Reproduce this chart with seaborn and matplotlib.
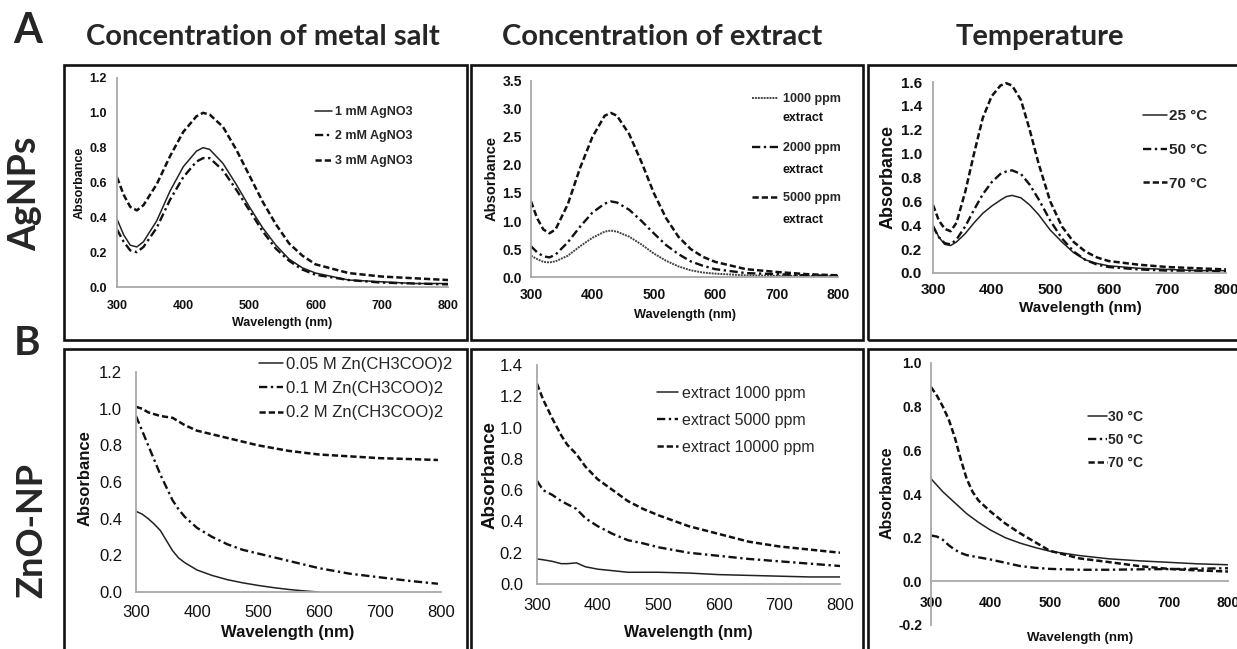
import matplotlib
matplotlib.use("Agg")
import matplotlib.pyplot as plt
import seaborn as sns
from matplotlib.patches import Rectangle
from matplotlib.lines import Line2D

# ---- data (wavelength in nm, absorbance) ----
# A: AgNPs, concentration of metal salt
wl_a1 = [300, 310, 320, 330, 340, 360, 380, 400, 420, 430, 440, 460, 480, 500, 520, 540, 560, 580, 600, 650, 700, 750, 800]
a1_1mM = [0.39, 0.30, 0.24, 0.23, 0.26, 0.38, 0.55, 0.69, 0.78, 0.80, 0.79, 0.71, 0.59, 0.46, 0.34, 0.24, 0.16, 0.11, 0.08, 0.04, 0.03, 0.02, 0.02]
a1_2mM = [0.33, 0.26, 0.21, 0.20, 0.23, 0.34, 0.50, 0.63, 0.72, 0.74, 0.74, 0.67, 0.56, 0.44, 0.32, 0.22, 0.15, 0.10, 0.07, 0.04, 0.025, 0.02, 0.015]
a1_3mM = [0.63, 0.53, 0.46, 0.44, 0.47, 0.59, 0.75, 0.89, 0.98, 1.00, 0.99, 0.92, 0.79, 0.64, 0.49, 0.36, 0.25, 0.18, 0.13, 0.08, 0.06, 0.05, 0.04]
labels_a1 = ["1 mM AgNO3", "2 mM AgNO3", "3 mM AgNO3"]

# A: AgNPs, concentration of extract
wl_a2 = [300, 310, 320, 330, 340, 360, 380, 400, 420, 430, 440, 460, 480, 500, 520, 540, 560, 580, 600, 650, 700, 750, 800]
a2_1000 = [0.38, 0.32, 0.27, 0.26, 0.28, 0.38, 0.55, 0.70, 0.81, 0.83, 0.81, 0.72, 0.58, 0.42, 0.29, 0.19, 0.12, 0.08, 0.06, 0.03, 0.02, 0.02, 0.01]
a2_2000 = [0.55, 0.44, 0.37, 0.35, 0.40, 0.62, 0.90, 1.15, 1.31, 1.35, 1.33, 1.20, 1.00, 0.78, 0.57, 0.41, 0.28, 0.20, 0.14, 0.07, 0.05, 0.03, 0.02]
a2_5000 = [1.35, 1.05, 0.85, 0.78, 0.85, 1.30, 1.95, 2.50, 2.88, 2.93, 2.88, 2.55, 2.05, 1.50, 1.05, 0.72, 0.50, 0.36, 0.27, 0.14, 0.09, 0.05, 0.03]
labels_a2 = ["1000 ppm", "2000 ppm", "5000 ppm"]

# A: AgNPs, temperature
wl_a3 = [300, 310, 320, 330, 340, 355, 370, 385, 400, 415, 425, 435, 450, 465, 480, 500, 520, 540, 560, 580, 600, 650, 700, 750, 800]
a3_25 = [0.40, 0.30, 0.24, 0.23, 0.26, 0.33, 0.42, 0.50, 0.56, 0.61, 0.64, 0.65, 0.63, 0.57, 0.49, 0.36, 0.26, 0.17, 0.11, 0.08, 0.06, 0.04, 0.03, 0.02, 0.02]
a3_50 = [0.39, 0.30, 0.25, 0.24, 0.28, 0.39, 0.53, 0.66, 0.76, 0.83, 0.85, 0.86, 0.83, 0.74, 0.62, 0.44, 0.29, 0.18, 0.11, 0.07, 0.05, 0.03, 0.02, 0.02, 0.01]
a3_70 = [0.57, 0.44, 0.37, 0.35, 0.42, 0.68, 1.00, 1.30, 1.48, 1.57, 1.59, 1.57, 1.45, 1.20, 0.92, 0.60, 0.39, 0.26, 0.18, 0.13, 0.10, 0.07, 0.05, 0.04, 0.03]
labels_a3 = ["25 \u00b0C", "50 \u00b0C", "70 \u00b0C"]

# B: ZnO-NP, concentration of metal salt
wl_b1_low = [300, 310, 320, 330, 340, 350, 360, 370, 380, 390, 400, 425, 450, 475, 500, 525, 550, 575, 600]
b1_005 = [0.44, 0.425, 0.40, 0.37, 0.335, 0.28, 0.225, 0.185, 0.16, 0.14, 0.12, 0.09, 0.067, 0.05, 0.036, 0.024, 0.014, 0.006, 0.0]
wl_b1 = [300, 310, 320, 330, 340, 350, 360, 370, 380, 400, 425, 450, 475, 500, 550, 600, 650, 700, 750, 795]
b1_01 = [0.96, 0.88, 0.80, 0.72, 0.64, 0.57, 0.50, 0.45, 0.41, 0.35, 0.30, 0.26, 0.23, 0.21, 0.17, 0.13, 0.10, 0.08, 0.06, 0.045]
b1_02 = [1.01, 1.00, 0.98, 0.97, 0.96, 0.955, 0.95, 0.93, 0.91, 0.88, 0.86, 0.84, 0.82, 0.80, 0.77, 0.75, 0.74, 0.73, 0.725, 0.72]
labels_b1 = ["0.05 M Zn(CH3COO)2", "0.1 M Zn(CH3COO)2", "0.2 M Zn(CH3COO)2"]

# B: ZnO-NP, concentration of extract
wl_b2 = [300, 310, 325, 340, 350, 365, 380, 400, 425, 450, 475, 500, 550, 600, 650, 700, 750, 800]
b2_1000 = [0.16, 0.155, 0.145, 0.13, 0.13, 0.135, 0.11, 0.095, 0.085, 0.075, 0.075, 0.075, 0.07, 0.06, 0.055, 0.05, 0.045, 0.045]
b2_5000 = [0.66, 0.60, 0.57, 0.53, 0.51, 0.48, 0.42, 0.37, 0.32, 0.28, 0.26, 0.235, 0.20, 0.18, 0.16, 0.145, 0.13, 0.115]
b2_10000 = [1.28, 1.18, 1.06, 0.95, 0.89, 0.83, 0.75, 0.67, 0.60, 0.53, 0.48, 0.44, 0.37, 0.32, 0.27, 0.24, 0.22, 0.20]
labels_b2 = ["extract 1000 ppm", "extract 5000 ppm", "extract 10000 ppm"]

# B: ZnO-NP, temperature
wl_b3 = [300, 310, 320, 330, 340, 350, 360, 370, 380, 400, 425, 450, 475, 500, 550, 600, 650, 700, 750, 800]
b3_30 = [0.47, 0.44, 0.41, 0.385, 0.36, 0.335, 0.31, 0.29, 0.27, 0.235, 0.20, 0.175, 0.155, 0.138, 0.118, 0.103, 0.094, 0.087, 0.08, 0.076]
b3_50 = [0.21, 0.205, 0.19, 0.165, 0.145, 0.13, 0.12, 0.115, 0.11, 0.10, 0.085, 0.07, 0.062, 0.057, 0.053, 0.053, 0.055, 0.056, 0.058, 0.06]
b3_70 = [0.89, 0.85, 0.80, 0.74, 0.66, 0.56, 0.47, 0.41, 0.37, 0.32, 0.265, 0.22, 0.18, 0.14, 0.105, 0.088, 0.07, 0.057, 0.05, 0.045]
labels_b3 = ["30 \u00b0C", "50 \u00b0C", "70 \u00b0C"]

col_titles = ["Concentration of metal salt", "Concentration of extract", "Temperature"]
wl_ticks = [300, 400, 500, 600, 700, 800]

# ---- styles ----
SOLID = dict(linestyle="-", linewidth=1.1, color="#222222")
FINE = dict(linestyle=(0, (1, 0.5)), linewidth=1.4, color="#444444")
DASHDOT = dict(linestyle=(0, (3.5, 1.5, 1, 1.5)), linewidth=1.7, color="#111111")
DASHED = dict(linestyle=(0, (2.5, 1.2)), linewidth=1.8, color="#111111")

W, H = 1237, 649
PT = 100 / 72  # px per point

sns.set_theme(style="white")
plt.rcParams["font.family"] = ["Liberation Sans", "DejaVu Sans"]
fig = plt.figure(figsize=(W / 100, H / 100), dpi=100)


def panel(x0, y0, x1, y1, ylim, ystep, tick_fs, ylab_gap, xlab_gap, ticklen):
    # x0/x1: pixel of 300/800 nm, y0/y1: pixel of ylim top/bottom
    ax = fig.add_axes([x0 / W, 1 - y1 / H, (x1 - x0) / W, (y1 - y0) / H])
    ax.set_xlim(300, 800)
    ax.set_ylim(*ylim)
    ax.set_xticks(wl_ticks)
    n = int(round((ylim[1] - ylim[0]) / ystep))
    ax.set_yticks([ylim[0] + i * ystep for i in range(n + 1)])
    ax.yaxis.set_major_formatter(matplotlib.ticker.FormatStrFormatter("%.1f"))
    for s in ["top", "right"]:
        ax.spines[s].set_visible(False)
    for s in ["left", "bottom"]:
        ax.spines[s].set_color("#a8a8a8")
        ax.spines[s].set_linewidth(1.3)
    ax.tick_params(axis="both", length=ticklen / PT, width=1, color="#a8a8a8", direction="out",
                   labelsize=tick_fs, labelcolor="#111111")
    ax.tick_params(axis="y", pad=(ylab_gap - ticklen) / PT)
    ax.tick_params(axis="x", pad=(xlab_gap - ticklen) / PT)
    ax.patch.set_alpha(0)
    return ax


def finish(ax, box, xl_center, yl_center, xfs, yfs, tick_w):
    x0, y0, x1, y1 = box
    ax.set_xlabel("Wavelength (nm)", fontsize=xfs, fontweight="bold", color="#111111", va="center")
    ax.set_ylabel("Absorbance", fontsize=yfs, fontweight="bold", color="#111111", va="center")
    ax.xaxis.set_label_coords((xl_center[0] - x0) / (x1 - x0), (y1 - xl_center[1]) / (y1 - y0))
    ax.yaxis.set_label_coords((yl_center[0] - x0) / (x1 - x0), (y1 - yl_center[1]) / (y1 - y0))
    for lab in ax.get_xticklabels() + ax.get_yticklabels():
        lab.set_fontweight(tick_w)


def legend(ax, styles, labels, x, top, fs, weight, hl, tp, ls):
    handles = [Line2D([], [], **s) for s in styles]
    ax.legend(handles, labels, loc="upper left", bbox_to_anchor=(x / W, 1 - top / H),
              bbox_transform=fig.transFigure, frameon=False, borderpad=0, borderaxespad=0,
              handlelength=hl, handletextpad=tp, labelspacing=ls,
              prop=dict(family="Liberation Sans", size=fs, weight=weight))


# ---- A1 ----
box = (117, 78, 448, 287)
ax = panel(*box, (0, 1.2), 0.2, 9, 10, 13, 0)
sns.lineplot(x=wl_a1, y=a1_1mM, ax=ax, **SOLID)
sns.lineplot(x=wl_a1, y=a1_2mM, ax=ax, **DASHDOT)
sns.lineplot(x=wl_a1, y=a1_3mM, ax=ax, **DASHED)
finish(ax, box, (282, 323), (80, 183), 9, 9, "bold")
legend(ax, [SOLID, DASHDOT, DASHED], labels_a1, 315, 106, 9, "bold", 1.36, 0.25, 1.0)

# ---- A2 ----
box = (531, 81, 838, 277)
ax = panel(*box, (0, 3.5), 0.5, 10, 9, 11, 3)
sns.lineplot(x=wl_a2, y=a2_1000, ax=ax, **FINE)
sns.lineplot(x=wl_a2, y=a2_2000, ax=ax, **DASHDOT)
sns.lineplot(x=wl_a2, y=a2_5000, ax=ax, **DASHED)
finish(ax, box, (685, 315), (492, 178), 9.2, 10.5, "bold")
legend(ax, [FINE, DASHDOT, DASHED], labels_a2, 752, 93, 9, "bold", 2.1, 0.4, 3.0)
for yy in [118, 170, 220]:
    fig.text(783 / W, 1 - yy / H, "extract", fontsize=9, fontweight="bold", color="#111111",
             ha="left", va="center")

# ---- A3 ----
box = (933, 82, 1226, 273)
ax = panel(*box, (0, 1.6), 0.2, 11, 11, 10, 3)
sns.lineplot(x=wl_a3, y=a3_25, ax=ax, **SOLID)
sns.lineplot(x=wl_a3, y=a3_50, ax=ax, **DASHDOT)
sns.lineplot(x=wl_a3, y=a3_70, ax=ax, **DASHED)
finish(ax, box, (1080, 308), (888, 177), 11, 13, "bold")
legend(ax, [SOLID, DASHDOT, DASHED], labels_a3, 1143, 109, 11, "bold", 1.57, 0.1, 1.3)

# ---- B1 ----
box = (136, 372, 441, 592)
ax = panel(*box, (0, 1.2), 0.2, 12, 14, 13, 4)
sns.lineplot(x=wl_b1_low, y=b1_005, ax=ax, **SOLID)
sns.lineplot(x=wl_b1, y=b1_01, ax=ax, **DASHDOT)
sns.lineplot(x=wl_b1, y=b1_02, ax=ax, **DASHED)
finish(ax, box, (288, 633), (85, 478), 12, 12, "normal")
legend(ax, [SOLID, DASHDOT, DASHED], labels_b1, 259, 357, 12, "normal", 1.44, 0.18, 0.55)

# ---- B2 ----
box = (537, 365, 840, 584)
ax = panel(*box, (0, 1.4), 0.2, 12, 14, 14, 4)
sns.lineplot(x=wl_b2, y=b2_1000, ax=ax, **SOLID)
sns.lineplot(x=wl_b2, y=b2_5000, ax=ax, **DASHDOT)
sns.lineplot(x=wl_b2, y=b2_10000, ax=ax, **DASHED)
finish(ax, box, (688, 632), (490, 475), 11.5, 13.5, "normal")
legend(ax, [SOLID, DASHDOT, DASHED], labels_b2, 657, 386, 11.5, "normal", 1.3, 0.25, 0.75)

# ---- B3 ----
box = (931, 363, 1228, 625)
ax = panel(*box, (-0.2, 1.0), 0.2, 10, 9, 15, 3)
ax.spines["bottom"].set_position(("data", 0))
ax.tick_params(axis="both", length=3 / PT, width=1, color="#a8a8a8", labelsize=10, labelcolor="#111111")
ax.tick_params(axis="y", pad=6 / PT)
ax.tick_params(axis="x", pad=12 / PT)
sns.lineplot(x=wl_b3, y=b3_30, ax=ax, **SOLID)
sns.lineplot(x=wl_b3, y=b3_50, ax=ax, **DASHDOT)
sns.lineplot(x=wl_b3, y=b3_70, ax=ax, **DASHED)
finish(ax, box, (1080, 638), (887, 493), 9.5, 11.5, "bold")
legend(ax, [SOLID, DASHDOT, DASHED], labels_b3, 1088, 410, 10, "bold", 1.37, 0.1, 0.65)

# ---- panel frames (double lines where boxes meet) ----
cols = [(64, 466.5), (470.5, 862.5), (868, 1300)]
rows = [(65.5, 339.5), (349.5, 700)]
for (ty, by) in rows:
    for (lx, rx) in cols:
        fig.add_artist(Rectangle((lx / W, 1 - by / H), (rx - lx) / W, (by - ty) / H,
                                 transform=fig.transFigure, fill=False, lw=1.9, ec="#111111"))

# ---- headings ----
TF = ["Lato", "DejaVu Sans"]
for title, cx in zip(col_titles, [263, 662, 1040]):
    fig.text(cx / W, 1 - 45 / H, title, family=TF, fontsize=21, fontweight="bold",
             ha="center", va="baseline")
fig.text(28 / W, 1 - 43 / H, "A", family=TF, fontsize=30, fontweight="bold", ha="center", va="baseline")
fig.text(27 / W, 1 - 355 / H, "B", family=TF, fontsize=29, fontweight="bold", ha="center", va="baseline")
fig.text(36 / W, 1 - 194 / H, "AgNPs", family=TF, fontsize=27, fontweight="bold", rotation=90,
         rotation_mode="anchor", ha="center", va="baseline")
fig.text(42 / W, 1 - 530 / H, "ZnO-NP", family=TF, fontsize=26, fontweight="bold", rotation=90,
         rotation_mode="anchor", ha="center", va="baseline")

fig.savefig("out.png", dpi=100)
